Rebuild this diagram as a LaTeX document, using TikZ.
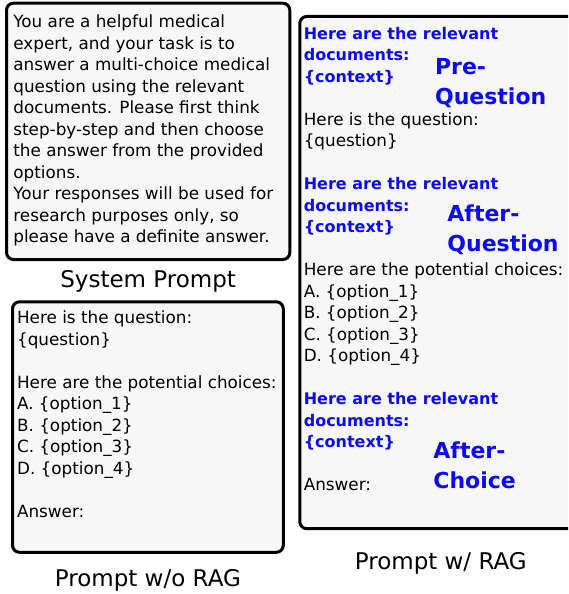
\documentclass[tikz,border=0pt]{standalone}
\usepackage{fontspec}
\setmainfont{DejaVu Sans}
\usetikzlibrary{positioning}
\definecolor{promptfill}{HTML}{F7F7F7}
\definecolor{ragblue}{HTML}{0B0BF5}
\begin{document}
\begin{tikzpicture}[x=1pt,y=1pt,thick,
    promptbox/.style={draw,rectangle,rounded corners=7pt,line width=3pt,fill=promptfill,inner sep=0pt,outer sep=0pt,anchor=north west},
    bodytext/.style={align=left,inner sep=0pt,font=\fontsize{16.8}{21.5}\selectfont},
    ragtext/.style={bodytext,text=ragblue,font=\fontsize{16}{21.5}\selectfont\bfseries},
    placetag/.style={align=left,inner sep=0pt,anchor=north west,text=ragblue,font=\fontsize{22}{30}\selectfont\bfseries},
    caption/.style={inner sep=0pt,font=\fontsize{23}{28}\selectfont}]
  \useasboundingbox (0,0) rectangle (568,-594);
  \clip (0,0) rectangle (568,-594);

  \node[promptbox,minimum width=283.3pt,minimum height=256.3pt] (sys) at (6.5,-3.2) {};
  \node[promptbox,minimum width=270.8pt,minimum height=250.5pt] (norag) at (12.5,-301.8) {};
  \node[promptbox,minimum width=282pt,minimum height=512.2pt] (rag) at (299.8,-16.5) {};

  \node[bodytext,below right=9.1pt and 6.5pt of sys.north west] (systext) {\strut You are a helpful medical\\
    expert, and your task is to\\
    answer a multi-choice medical\\
    question using the relevant\\
    documents. Please first think\\
    step-by-step and then choose\\
    the answer from the provided\\
    options.\\
    Your responses will be used for\\
    research purposes only, so\\
    please have a definite answer.};
  \node[bodytext,below right=6.5pt and 4.2pt of norag.north west] (noragtext) {\strut Here is the question:\\
    \{question\}\\[21.5pt]
    Here are the potential choices:\\
    A. \{option\_1\}\\
    B. \{option\_2\}\\
    C. \{option\_3\}\\
    D. \{option\_4\}\\[21.5pt]
    Answer:};

  \node[ragtext,below right=7.45pt and 3.6pt of rag.north west] (ctxpre) {\strut Here are the relevant\\documents:\\\{context\}};
  \node[bodytext,below right=93.45pt and 3.6pt of rag.north west] (qrag) {\strut Here is the question:\\\{question\}};
  \node[ragtext,below right=157.95pt and 3.6pt of rag.north west] (ctxafterq) {\strut Here are the relevant\\documents:\\\{context\}};
  \node[bodytext,below right=243.95pt and 3.6pt of rag.north west] (choicesrag) {\strut Here are the potential choices:\\
    A. \{option\_1\}\\
    B. \{option\_2\}\\
    C. \{option\_3\}\\
    D. \{option\_4\}};
  \node[ragtext,below right=372.95pt and 3.6pt of rag.north west] (ctxafterc) {\strut Here are the relevant\\documents:\\\{context\}};
  \node[bodytext,below right=458.95pt and 3.6pt of rag.north west] (ansrag) {\strut Answer:};

  \node[placetag] (tagpre) at (434.7,-53) {\strut Pre-\\Question};
  \node[placetag] (tagafterq) at (447,-199.7) {\strut After-\\Question};
  \node[placetag] (tagafterc) at (433,-437.3) {\strut After-\\Choice};

  \node[caption,below=10.3pt of sys] (syscap) {System Prompt};
  \node[caption,below=16.9pt of norag] (noragcap) {Prompt w/o RAG};
  \node[caption,below=23.1pt of rag] (ragcap) {Prompt w/ RAG};
\end{tikzpicture}
\end{document}
